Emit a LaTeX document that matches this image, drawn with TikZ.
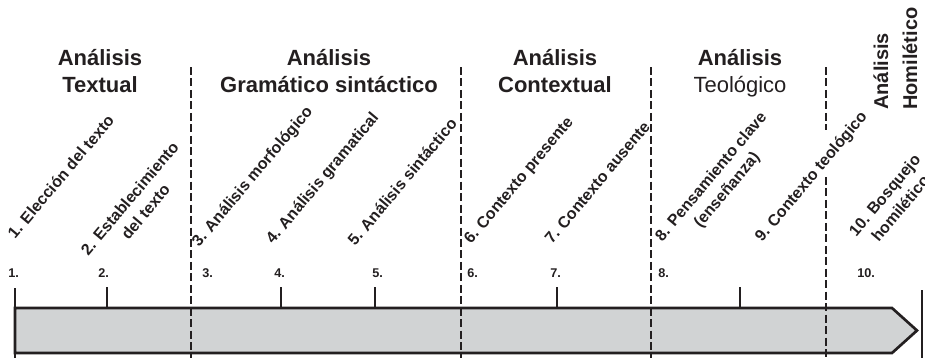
\documentclass[tikz,border=0pt]{standalone}
\usepackage{fontspec}
\setmainfont{Liberation Sans}
\definecolor{ink}{RGB}{35,31,32}
\definecolor{barfill}{RGB}{209,211,212}

\begin{document}
\begin{tikzpicture}[x=0.75pt,y=0.75pt,yscale=-1,xscale=1,
  heading/.style={anchor=base,inner sep=0pt,align=center,text=ink,font=\fontsize{16.5}{20.25}\selectfont\bfseries},
  steplabel/.style={anchor=base west,inner sep=0pt,rotate=50,align=center,text=ink,font=\fontsize{12}{15.5}\selectfont\bfseries},
  stepnum/.style={anchor=base west,inner sep=0pt,text=ink,font=\fontsize{9.5}{10}\selectfont\bfseries},
  divider/.style={draw=ink,line width=2.1,dash pattern=on 6pt off 2.6pt},
  tickline/.style={draw=ink,line width=2}]
\useasboundingbox (0,0) rectangle (925,358);

%Shapes (bar)
\draw [tickline, fill=barfill] (15,308) -- (892,308) -- (917,330.5) -- (892,353) -- (15,353) -- cycle ;
%Straight Lines
\draw [tickline] (15,288) -- (15,358) ;
%Straight Lines
\draw [tickline] (922,290) -- (922,358) ;
%Straight Lines
\draw [tickline] (107,287) -- (107,308) ;
\draw [tickline] (281,287) -- (281,308) ;
\draw [tickline] (375,287) -- (375,308) ;
\draw [tickline] (557,287) -- (557,308) ;
\draw [tickline] (740,287) -- (740,308) ;
%Straight Lines (dashed)
\draw [divider] (191,67) -- (191,358) ;
\draw [divider] (461,67) -- (461,358) ;
\draw [divider] (651,67) -- (651,358) ;
\draw [divider] (826,67) -- (826,130) ;
\draw [divider] (826,177) -- (826,358) ;

% Text Node
\node [heading] (textual) at (100,92) {Análisis\\Textual};
% Text Node
\node [heading] (gramatico) at (329,92) {Análisis\\Gramático sintáctico};
% Text Node
\node [heading] (contextual) at (555,92) {Análisis\\Contextual};
% Text Node
\node [heading] (teologico) at (740,92) {Análisis\\\mdseries Teológico};
% Text Node
\node [heading, anchor=base west, align=left, rotate=90, font=\fontsize{15}{21.75}\selectfont\bfseries] (homiletico) at (917,110) {Análisis\\Homilético};

% Text Node
\node [steplabel] (s1) at (15,240) {1. Elección del texto};
\node [steplabel] (s2) at (104,270) {2. Establecimiento\\del texto};
\node [steplabel] (s3) at (199,248) {3. Análisis morfológico};
\node [steplabel] (s4) at (273,245) {4. Análisis gramatical};
\node [steplabel] (s5) at (355,247) {5. Análisis sintáctico};
\node [steplabel] (s6) at (471,245) {6. Contexto presente};
\node [steplabel] (s7) at (552,245) {7. Contexto ausente};
\node [steplabel] (s8) at (678,256) {8. Pensamiento clave\\(enseñanza)};
\node [steplabel] (s9) at (762,243) {9. Contexto teológico};
\node [steplabel] (s10) at (872,251) {10. Bosquejo\\homilético};

% Text Node
\node [stepnum] (n1) at (8,277) {1.};
\node [stepnum] (n2) at (98,277) {2.};
\node [stepnum] (n3) at (202,277) {3.};
\node [stepnum] (n4) at (274,277) {4.};
\node [stepnum] (n5) at (372,277) {5.};
\node [stepnum] (n6) at (467,277) {6.};
\node [stepnum] (n7) at (550,277) {7.};
\node [stepnum] (n8) at (658,277) {8.};
\node [stepnum] (n10) at (857,277) {10.};
\end{tikzpicture}
\end{document}
